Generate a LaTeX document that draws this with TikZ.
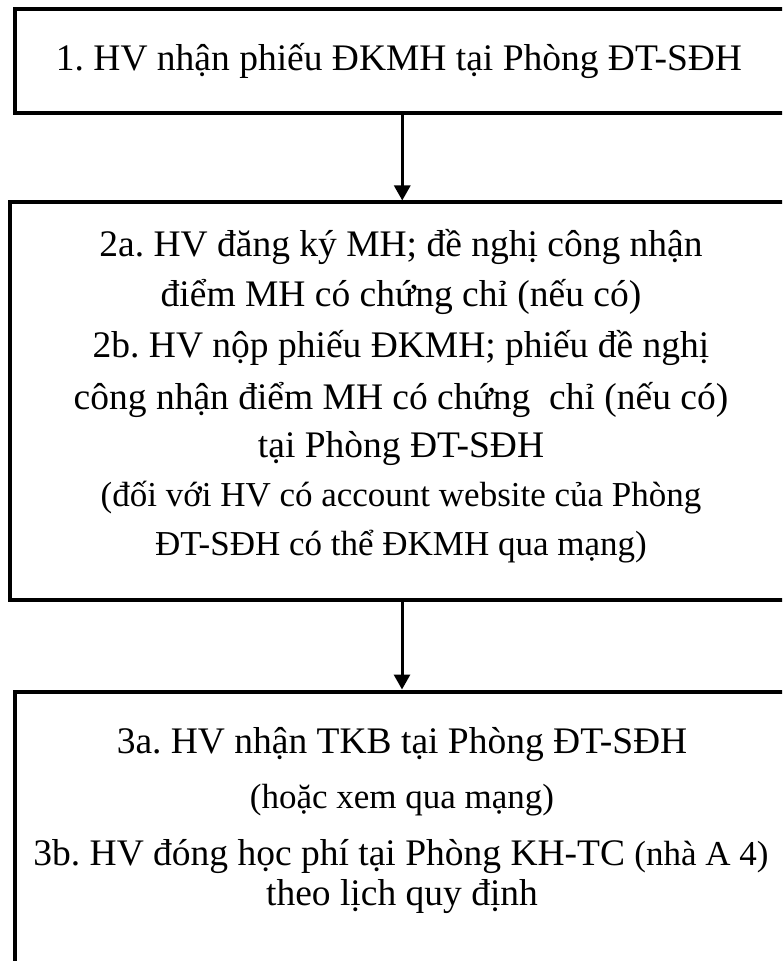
\documentclass[tikz,border=0pt]{standalone}
\usepackage{fontspec}
\setmainfont{Liberation Serif}
\usetikzlibrary{arrows.meta}
\newcommand{\bigtxt}{\fontsize{18.75pt}{25pt}\selectfont}
\newcommand{\smalltxt}{\fontsize{17.5pt}{22pt}\selectfont}
\frenchspacing
\begin{document}
\begin{tikzpicture}[x=0.5pt,y=-0.5pt,
  box/.style={draw=black, line width=2pt, inner sep=0pt},
  txt/.style={anchor=base, inner sep=0pt, font=\bigtxt},
  stxt/.style={anchor=base, inner sep=0pt, font=\smalltxt},
  arr/.style={draw=black, line width=1.5pt, -{Triangle[width=8pt,length=7.5pt]}}]
\useasboundingbox (0,0) rectangle (782,961);
\clip (0,0) rectangle (782,961);
% boxes
\node[box, minimum width=387.75pt, minimum height=51.75pt] (b1) at (402.25,61.25) {};
\node[box, minimum width=392pt, minimum height=198.75pt] (b2) at (402,401.25) {};
\node[box, minimum width=387.75pt, minimum height=154.25pt] (b3) at (402.25,845.75) {};
% box 1 text
\node[txt] (t1) at (399,71) {1. HV nhận phiếu ĐKMH tại Phòng ĐT-SĐH};
% box 2 text
\node[txt] (t2a) at (401,257) {2a. HV đăng ký MH; đề nghị công nhận};
\node[txt] (t2b) at (401,307) {điểm MH có chứng chỉ (nếu có)};
\node[txt] (t2c) at (401,358) {2b. HV nộp phiếu ĐKMH; phiếu đề nghị};
\node[txt] (t2d) at (401,409) {công nhận điểm MH có chứng\ \ chỉ (nếu có)};
\node[txt] (t2e) at (401,458) {tại Phòng ĐT-SĐH};
\node[stxt] (t2f) at (401,506) {(đối với HV có account website của Phòng};
\node[stxt] (t2g) at (401,555) {ĐT-SĐH có thể ĐKMH qua mạng)};
% box 3 text
\node[txt] (t3a) at (402,753) {3a. HV nhận TKB tại Phòng ĐT-SĐH};
\node[stxt] (t3b) at (402,808) {(hoặc xem qua mạng)};
\node[txt] (t3c) at (401,865) {3b. HV đóng học phí tại Phòng KH-TC {\smalltxt (nhà A 4)}};
\node[txt] (t3d) at (402,905) {theo lịch quy định};
% connectors
\draw[arr] (b1.south) -- (b1.south |- b2.north);
\draw[arr] (b2.south) -- (b2.south |- b3.north);
\end{tikzpicture}
\end{document}
